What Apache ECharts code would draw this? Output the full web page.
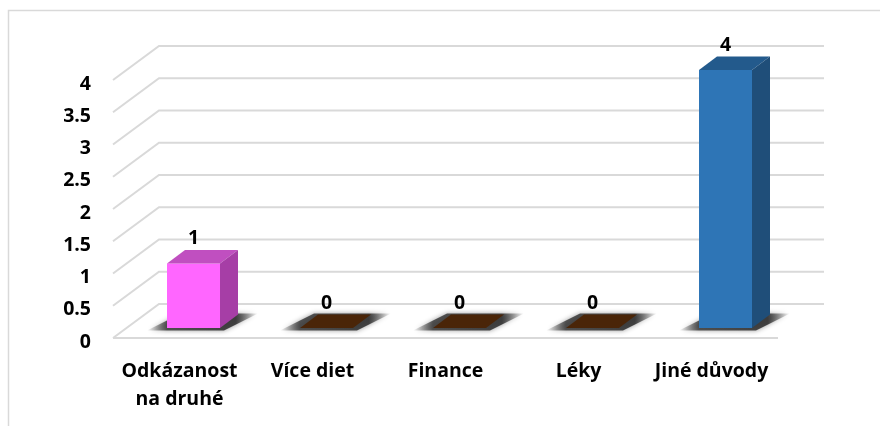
<!DOCTYPE html>
<html><head><meta charset="utf-8">
<style>html,body{margin:0;padding:0;background:#fff}#c{width:880px;height:426px}</style>
<script src="https://cdn.jsdelivr.net/npm/echarts@6/dist/echarts.min.js"></script>
</head><body><div id="c"></div>
<script>
const categories = ['Odkázanost\nna druhé','Více diet','Finance','Léky','Jiné důvody'];
const values = [1,0,0,0,4];
const frontColors = ['#ff66ff','#4a2508','#4a2508','#4a2508','#2e75b6'];
const topColors = ['#c04fc0','#4a2508','#4a2508','#4a2508','#235a8c'];
const sideColors = ['#a63ea6','#3a1c06','#3a1c06','#3a1c06','#1f4e79'];
const wallTicks = [0,0.5,1,1.5,2,2.5,3,3.5,4];

const WALL_DX = 46, WALL_DY = 34;     // depth of the 3-D floor
const BAR_DX = 18, BAR_DY = 13.5;       // depth of each bar
const BAR_IN_X = 14, BAR_IN_Y = 10;   // bar's set-back from the front of the floor
const BAR_W = 53;
const GRID_C = '#d9d9d9';
const FONT = 'Open Sans';
const FONT_SIZE = 19.5;

function wallItem(params, api){
  const v = api.value(0), cs = params.coordSys;
  const y = api.coord([0, v])[1], x0 = cs.x, x1 = cs.x + cs.width;
  const style = {stroke: GRID_C, lineWidth: 2, fill: null};
  const children = [{type:'polyline', shape:{points:[[x0,y],[x0+WALL_DX,y-WALL_DY],[x1+WALL_DX,y-WALL_DY]]}, style}];
  if (v === 0) children.push({type:'line', shape:{x1:x0,y1:y,x2:x1,y2:y}, style});
  return {type:'group', children};
}

function barItem(params, api){
  const i = api.value(0), v = api.value(1);
  const base = api.coord([i, 0]), tip = api.coord([i, v]);
  const xl = base[0] + BAR_IN_X - BAR_W/2, xr = xl + BAR_W;
  const yb = base[1] - BAR_IN_Y, yt = tip[1] - BAR_IN_Y;
  const dx = BAR_DX, dy = BAR_DY;
  const tail = 20, span = BAR_W + dx + 2*tail, a = tail/span;
  const shade = new echarts.graphic.LinearGradient(0,0,1,0,[
    {offset:0,color:'rgba(50,50,50,0)'},{offset:a,color:'rgba(50,50,50,0.8)'},
    {offset:0.8,color:'rgba(50,50,50,0.9)'},{offset:1,color:'rgba(50,50,50,0)'}]);
  const children = [
    {type:'polygon', shape:{points:[[xl-tail,yb+2.5],[xr+4,yb+2.5],[xr+dx+tail,yb-dy-1],[xl+dx-4,yb-dy-1]]},
      style:{fill:shade, shadowBlur:5, shadowColor:'rgba(60,60,60,0.6)'}}
  ];
  if (v === 0) {
    children.push({type:'polygon', shape:{points:[[xl,yb],[xr,yb],[xr+dx,yb-dy],[xl+dx,yb-dy]]}, style:{fill:topColors[i]}});
  } else {
    children.push(
      {type:'rect', shape:{x:xl,y:yt,width:BAR_W,height:yb-yt}, style:{fill:frontColors[i]}},
      {type:'polygon', shape:{points:[[xl,yt],[xr,yt],[xr+dx,yt-dy],[xl+dx,yt-dy]]}, style:{fill:topColors[i]}},
      {type:'polygon', shape:{points:[[xr,yt],[xr+dx,yt-dy],[xr+dx,yb-dy],[xr,yb]]}, style:{fill:sideColors[i]}}
    );
  }
  children.push({type:'text', style:{text:String(v), x:(xl+xr)/2, y:yt-25, align:'center', verticalAlign:'middle',
    fontFamily:FONT, fontWeight:'bold', fontSize:FONT_SIZE, fill:'#000'}});
  return {type:'group', children};
}

const chart = echarts.init(document.getElementById('c'), null, {renderer:'canvas'});
chart.setOption({
  animation:false,
  backgroundColor:'#fff',
  graphic:[{type:'polyline', silent:true, z:-1, shape:{points:[[8.5,430],[8.5,10.5],[890,10.5]]}, style:{stroke:'#d9d9d9',lineWidth:1.5,fill:null}}],
  grid:{left:113, width:665, top:80, height:258, containLabel:false},
  xAxis:{type:'category', data:categories, axisLine:{show:false}, axisTick:{show:false}, splitLine:{show:false},
    axisLabel:{interval:0, margin:19, color:'#000', fontFamily:FONT, fontWeight:'bold', fontSize:FONT_SIZE, lineHeight:28}},
  yAxis:{type:'value', min:0, max:4, interval:0.5, axisLine:{show:false}, axisTick:{show:false}, splitLine:{show:false},
    axisLabel:{margin:22, color:'#000', fontFamily:FONT, fontWeight:'bold', fontSize:FONT_SIZE, verticalAlign:'top', lineHeight:8}},
  series:[
    {type:'custom', coordinateSystem:'cartesian2d', silent:true, z:1, renderItem:wallItem,
      encode:{x:1,y:0}, data:wallTicks.map(t=>[t,0])},
    {type:'custom', coordinateSystem:'cartesian2d', silent:true, z:2, renderItem:barItem,
      encode:{x:0,y:1}, data:values.map((v,i)=>[i,v])}
  ]
});
</script></body></html>
